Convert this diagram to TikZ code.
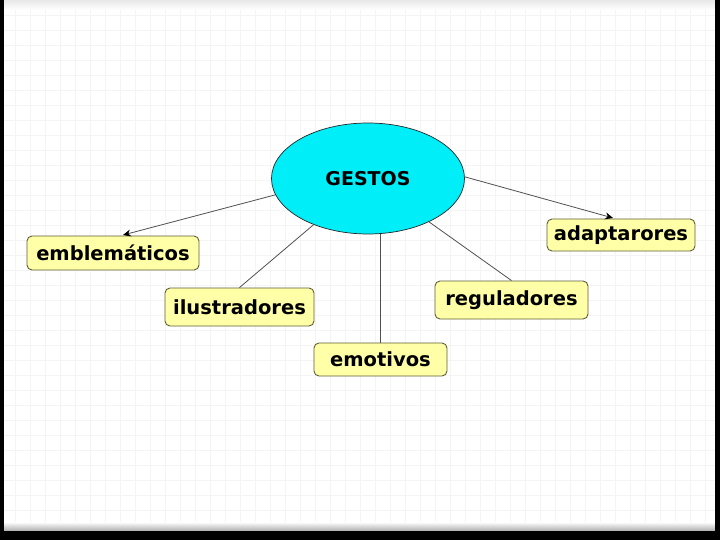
\documentclass[tikz,border=0pt]{standalone}
\usepackage{fontspec}
\setmainfont{DejaVu Sans}
\usetikzlibrary{shapes.geometric,arrows.meta}
\definecolor{gcyan}{RGB}{0,238,248}
\definecolor{byellow}{RGB}{255,255,168}
\definecolor{bedge}{RGB}{95,95,55}
\definecolor{lgray}{RGB}{80,80,80}
\definecolor{gridc}{RGB}{244,244,244}
\tikzset{
  concept/.style={draw=bedge, line width=0.9pt, fill=byellow, rounded corners=5pt,
    inner sep=0pt, font=\fontsize{19.5}{21}\selectfont\bfseries},
  link/.style={draw=lgray, line width=0.8pt},
  arrowlink/.style={link, -{Stealth[length=8pt,width=7pt,black]}, shorten >=2pt},
}
\begin{document}
\begin{tikzpicture}[x=1pt,y=-1pt]
\useasboundingbox (0,0) rectangle (720,540);
% background
\fill[white] (0,0) rectangle (720,540);
\foreach \gx in {15,30,...,705} \draw[gridc, line width=0.7pt] (\gx,0) -- (\gx,540);
\foreach \gy in {15,30,...,525} \draw[gridc, line width=0.7pt] (0,\gy) -- (720,\gy);
\shade[top color=gray!18, bottom color=white, draw=none] (4,0) rectangle (715,10);
\shade[top color=white, bottom color=gray!65, draw=none] (4,522) rectangle (715,531);
\fill[black] (0,0) rectangle (4,540);
\fill[black] (715,0) rectangle (720,540);
\fill[black] (0,531) rectangle (720,540);
% nodes
\node[ellipse, draw=black!85, line width=0.7pt, fill=gcyan, minimum width=193, minimum height=111,
  inner sep=0pt, font=\fontsize{19}{21}\selectfont\bfseries] (G) at (368,178.5) {GESTOS};
\node[concept, minimum width=172, minimum height=34] (emb) at (113,253) {emblemáticos};
\node[concept, minimum width=149, minimum height=38] (ilu) at (239.5,307) {ilustradores};
\node[concept, minimum width=133, minimum height=33] (emo) at (380.5,359.5) {emotivos};
\node[concept, minimum width=153, minimum height=38] (reg) at (511.5,300) {reguladores};
\node[concept, minimum width=148, minimum height=32] (ada) at (621,235) {adaptarores};
% connectors
\draw[arrowlink] (G.190) -- ([xshift=8]emb.north);
\draw[arrowlink] (G.1) -- ([xshift=-6]ada.north);
\draw[link] (G) -- (ilu.north);
\draw[link] (emo.north |- G.south) -- (emo.north);
\draw[link] (G) -- (reg.north);
\end{tikzpicture}
\end{document}
